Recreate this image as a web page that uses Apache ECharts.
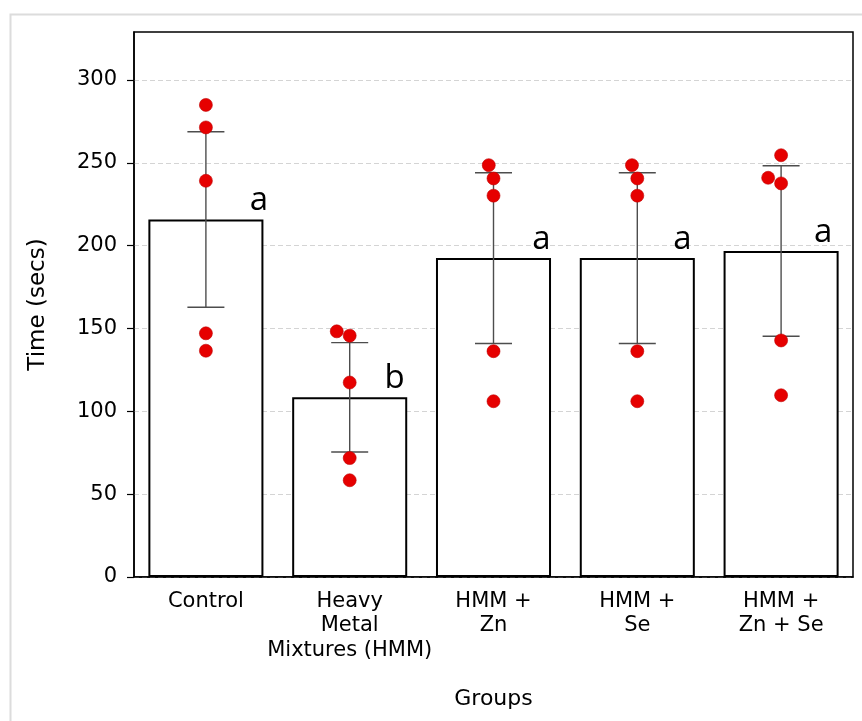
<!DOCTYPE html>
<html>
<head>
<meta charset="utf-8">
<script src="https://cdn.jsdelivr.net/npm/echarts@6/dist/echarts.min.js"></script>
<style>
html,body{margin:0;padding:0;background:#fff;}
#chart{width:862px;height:721px;}
</style>
</head>
<body>
<div id="chart"></div>
<script>
const categories = ['Control', 'Heavy\nMetal\nMixtures (HMM)', 'HMM +\nZn', 'HMM +\nSe', 'HMM +\nZn + Se'];
const means = [215.8, 108.5, 192.5, 192.5, 196.8];
const sds = [53, 33, 51.5, 51.5, 51.5];
const letters = ['a', 'b', 'a', 'a', 'a'];
const points = [
  [285.0, 271.4, 239.2, 147.1, 136.6],
  [148.3, 145.7, 117.4, 71.8, 58.4],
  [248.6, 240.6, 230.2, 136.3, 106.1],
  [248.6, 240.6, 230.2, 136.3, 106.1],
  [254.6, 241.0, 237.6, 142.8, 109.7]
];
const jitter = [
  [0, 0, 0, 0, 0],
  [-0.09, 0, 0, 0, 0],
  [-0.033, 0, 0, 0, 0],
  [-0.037, 0, 0, 0, 0],
  [0, -0.09, 0, 0, 0]
];
const yTicks = [0, 50, 100, 150, 200, 250, 300];

// styling only
const labelDx = [53, 45, 48, 45, 42];
const FONT = '"DejaVu Sans", sans-serif';

const chart = echarts.init(document.getElementById('chart'), null, {renderer: 'canvas'});

const barData = means.map((m, i) => ({
  value: m,
  label: {offset: [labelDx[i], 0]}
}));
const errData = means.map((m, i) => [i, m - sds[i], m + sds[i]]);
const scatterData = [];
points.forEach((arr, i) => arr.forEach((v, j) => scatterData.push([i + jitter[i][j], v])));

chart.setOption({
  animation: false,
  backgroundColor: '#fff',
  graphic: [{
    type: 'rect', left: 8, top: 12, silent: true,
    shape: {width: 900, height: 800},
    style: {fill: 'none', stroke: '#dcdcdc', lineWidth: 2}
  }],
  grid: {left: 134, right: 9, top: 32, bottom: 144, show: true, borderColor: '#000', borderWidth: 1.5, backgroundColor: 'transparent'},
  xAxis: [{
    type: 'category', data: categories, boundaryGap: true,
    axisLine: {lineStyle: {color: '#000', width: 1.5}},
    axisTick: {alignWithLabel: true, length: 6, lineStyle: {color: '#000', width: 1.2}},
    axisLabel: {color: '#000', fontSize: 21, fontFamily: FONT, lineHeight: 24.5, margin: 12, interval: 0},
    name: 'Groups', nameLocation: 'middle', nameGap: 111,
    nameTextStyle: {color: '#000', fontSize: 22, fontFamily: FONT}
  }, {
    type: 'value', min: -0.5, max: 4.5, show: false
  }],
  yAxis: {
    type: 'value', min: 0, max: 329, interval: 50,
    axisLine: {show: true, onZero: false, lineStyle: {color: '#000', width: 1.5}},
    axisTick: {show: true, length: 7, lineStyle: {color: '#000', width: 1.2}, customValues: yTicks},
    axisLabel: {color: '#000', fontSize: 21, fontFamily: FONT, margin: 17, customValues: yTicks},
    splitLine: {show: true, lineStyle: {color: '#d4d4d4', type: [5, 3], width: 1}},
    name: 'Time (secs)', nameLocation: 'middle', nameGap: 84, nameRotate: 90,
    nameTextStyle: {color: '#000', fontSize: 23, fontFamily: FONT}
  },
  series: [{
    type: 'bar', data: barData, barWidth: '80%', xAxisIndex: 0,
    itemStyle: {color: '#fff', borderColor: '#000', borderWidth: 2},
    label: {show: true, position: 'top', distance: 2, formatter: p => letters[p.dataIndex],
      fontSize: 33, fontFamily: '"Open Sans", sans-serif', color: '#000'},
    z: 2
  }, {
    type: 'custom', xAxisIndex: 1, data: errData, z: 3,
    renderItem: function (params, api) {
      const x = api.value(0);
      const lo = api.coord([x, api.value(1)]);
      const hi = api.coord([x, api.value(2)]);
      const cw = 18.5;
      const st = {stroke: '#4d4d4d', lineWidth: 1.4};
      return {type: 'group', children: [
        {type: 'line', shape: {x1: lo[0], y1: lo[1], x2: hi[0], y2: hi[1]}, style: st},
        {type: 'line', shape: {x1: hi[0] - cw, y1: hi[1], x2: hi[0] + cw, y2: hi[1]}, style: st},
        {type: 'line', shape: {x1: lo[0] - cw, y1: lo[1], x2: lo[0] + cw, y2: lo[1]}, style: st}
      ]};
    }
  }, {
    type: 'scatter', xAxisIndex: 1, data: scatterData, symbolSize: 13, z: 4,
    itemStyle: {color: '#e60000', borderColor: '#c00000', borderWidth: 0.6, opacity: 1}
  }]
});
</script>
</body>
</html>
